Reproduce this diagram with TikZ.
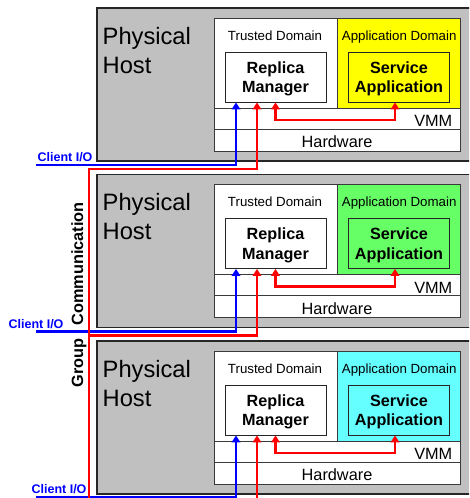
\documentclass[tikz,border=0pt]{standalone}
\usepackage{fontspec}
\setmainfont{Liberation Sans}
\usetikzlibrary{arrows.meta}

\definecolor{hostgray}{HTML}{C0C0C0}
\definecolor{appyellow}{HTML}{FFFF00}
\definecolor{appgreen}{HTML}{66FF66}
\definecolor{appcyan}{HTML}{66FFFF}
\definecolor{rulegray}{HTML}{3A3A3A}

\tikzset{
  hostbox/.style={fill=hostgray, draw=black!85, line width=1.3pt},
  layer/.style={draw=rulegray, line width=0.9pt},
  lbl/.style={inner sep=0pt, anchor=base},
  compbox/.style={draw=black!85, line width=0.9pt, inner sep=0pt,
    minimum width=101pt, minimum height=50pt, align=center, text depth=0pt,
    font=\bfseries\fontsize{16.2}{19.5}\selectfont},
  wire/.style={line width=2.9pt, line join=miter},
  iolabel/.style={inner sep=0pt, anchor=base west, text=blue,
    font=\bfseries\fontsize{12.5}{14}\selectfont},
}

\begin{document}
\begin{tikzpicture}[x=1pt, y=-1pt, >={Triangle[width=8.5pt,length=7pt]}]
\useasboundingbox (0,0) rectangle (469,498);
\clip (0,0) rectangle (469,498);

% three physical hosts, each with its domains, VMM and hardware layers
\foreach \i/\dy/\col in {1/0/appyellow, 2/166.5/appgreen, 3/333/appcyan} {
  \begin{scope}[shift={(0,\dy)}]
    \draw[hostbox] (97,8) rectangle (495,161);
    \fill[white] (214,18) rectangle (460,151);
    \fill[\col] (337,18) rectangle (460,108);
    \draw[layer] (214,18) rectangle (460,151);
    \draw[layer] (214,108) -- (460,108) (214,129) -- (460,129) (337,18) -- (337,108);
    \node[inner sep=0pt, anchor=north west, align=left,
          font=\fontsize{23.7}{29}\selectfont] (ph\i) at (102.5,27) {Physical\\Host};
    \node[lbl, font=\fontsize{13.3}{15}\selectfont] (td\i) at (275,40) {Trusted Domain};
    \node[lbl, font=\fontsize{13.3}{15}\selectfont] (ad\i) at (399.2,40) {Application Domain};
    \node[compbox, fill=white] (rm\i) at (275.5,77) {Replica\\Manager};
    \node[compbox, fill=\col] (sa\i) at (399,77) {Service\\Application};
    \node[lbl, anchor=base east, font=\fontsize{16.3}{18}\selectfont] (vmm\i) at (452.5,126.5) {VMM};
    \node[lbl, font=\fontsize{16.3}{18}\selectfont] (hw\i) at (337,147.5) {Hardware};
  \end{scope}
}

% client I/O connections
\coordinate (io1) at (36,165);
\coordinate (io2) at (36,331.5);
\coordinate (io3) at (36,497.5);
\foreach \i in {1,2,3}
  \draw[wire, blue, ->] (io\i) -| ([xshift=-39.5]rm\i.south);
\node[iolabel] (cl1) at (37.4,161.5) {Client I/O};
\node[iolabel] (cl2) at (8.4,328.5) {Client I/O};
\node[iolabel] (cl3) at (31.4,493.5) {Client I/O};

% group communication bus linking the replica managers
\coordinate (bus1) at (89,169);
\coordinate (bus2) at (89,335.5);
\coordinate (bus3) at (89,502);
\draw[wire, red, <->] ([xshift=-18.5]rm1.south) |- (bus1) -- (bus3) -| ([xshift=-18.5]rm3.south);
\draw[wire, red, ->] (bus2) -| ([xshift=-18.5]rm2.south);
\node[inner sep=0pt, anchor=base, rotate=90, font=\bfseries\fontsize{16.3}{18}\selectfont]
  (gc) at (83,295) {Group\hspace{8.5pt} Communication};

% links through the VMM between replica manager and service application
\foreach \i in {1,2,3}
  \draw[wire, red, <->] (rm\i.south) -- ++(0,17.5) -| ([xshift=-4]sa\i.south);
\end{tikzpicture}
\end{document}
